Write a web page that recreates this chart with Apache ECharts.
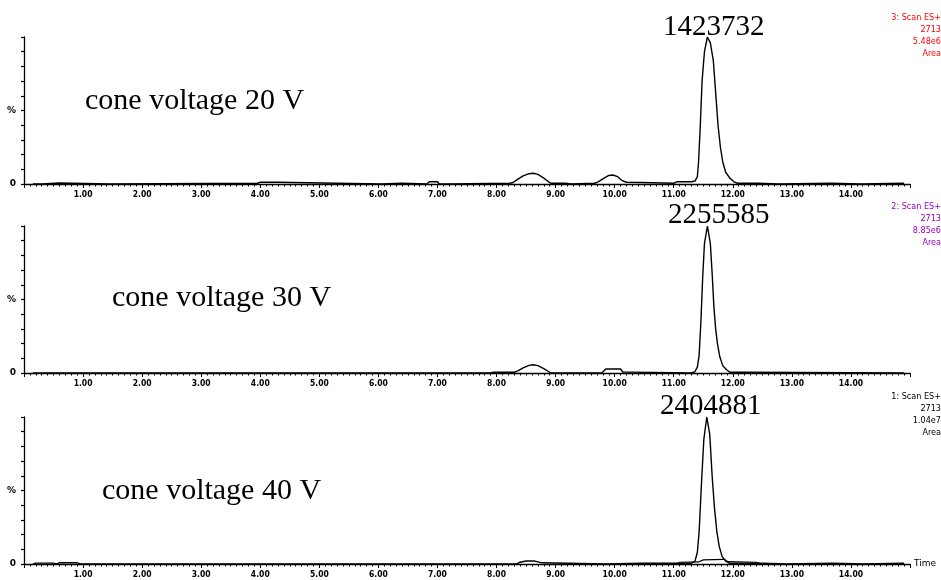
<!DOCTYPE html>
<html>
<head>
<meta charset="utf-8">
<script src="https://cdn.jsdelivr.net/npm/echarts@6/dist/echarts.min.js"></script>
<style>
  html, body { margin: 0; padding: 0; background: #fff; }
  #chart { width: 941px; height: 580px; }
</style>
</head>
<body>
<div id="chart"></div>
<script>
// Chromatogram traces: [retention time (min), relative intensity (%)]
const trace20 = [
  [0.15,0],[0.3,0],[0.32,0.7],[0.6,0.7],[0.62,0],
  [1.45,0],[1.47,0.5],[3.95,0.5],[4.0,1.2],[4.3,1.2],[4.33,0],
  [6.05,0],[6.07,0.6],[6.4,0.6],[6.42,0],
  [6.82,0],[6.86,1.5],[7.0,1.5],[7.03,0],
  [7.2,0],[7.22,0.5],[8.22,0.5],
  [8.28,1],[8.35,3],[8.45,5.5],[8.55,7],[8.62,7.3],[8.7,6.5],[8.8,4],[8.88,1.5],[8.92,0.5],
  [9.17,0.5],[9.2,0],[9.27,0],[9.3,0.5],[9.66,0.5],
  [9.72,1.5],[9.8,3.5],[9.9,5.8],[9.97,6.1],[10.05,5],[10.12,2.5],[10.2,1.2],[10.45,1],[10.48,0.5],
  [11.0,0.5],[11.05,1.5],[11.3,1.5],
  [11.36,2],[11.4,5],[11.42,15],[11.45,40],[11.48,70],[11.52,90],[11.57,100],[11.62,96],
  [11.67,84],[11.71,62],[11.75,40],[11.79,25],[11.83,15],[11.88,8],[11.95,4],[12.02,1.5],
  [12.08,0.5],[12.43,0.5],[12.45,0],
  [12.77,0],[12.79,0.5],[13.67,0.5],[13.69,0],[14.17,0],[14.19,0.5],[14.9,0.5]
];

const trace30 = [
  [0.15,0],[7.9,0],[7.95,0.5],[8.3,0.5],
  [8.36,1.5],[8.45,3.5],[8.55,5.2],[8.62,5.6],[8.7,5],[8.8,3],[8.88,1],[8.92,0],
  [9.78,0],[9.8,0.6],[9.85,2.7],[10.1,2.7],[10.14,0.6],[10.27,0.6],[10.3,0],
  [11.3,0],[11.36,1],[11.4,4],[11.43,12],[11.46,35],[11.49,65],[11.52,88],[11.57,100],
  [11.62,88],[11.65,68],[11.68,45],[11.71,30],[11.74,20],[11.78,11],[11.83,5],[11.9,2],
  [11.95,0.5],[12.21,0.5],[12.24,0],[14.9,0]
];

const trace40 = [
  [0.15,0],[0.2,0.6],[0.5,0.6],[0.55,0],[0.6,0.8],[0.9,0.8],[0.95,0],
  [8.34,0],[8.4,1.2],[8.5,2],[8.65,2],[8.77,0.8],[8.8,0],
  [9.86,0],[9.88,0.6],[10.46,0.6],[10.48,0],
  [11.3,0.5],[11.36,2],[11.4,8],[11.43,22],[11.47,55],[11.51,85],[11.56,100],[11.61,88],
  [11.65,60],[11.69,38],[11.73,22],[11.77,12],[11.82,5],[11.88,2],[11.95,0.5],
  [12.5,0.5],[12.52,0],[12.9,0],[12.92,0.5],[13.7,0.5],[13.72,0],
  [14.2,0],[14.22,0.5],[14.9,0.5]
];

// Second, low trace in the 40 V panel
const trace40b = [
  [11.05,0],[11.1,1.2],[11.42,1.4],[11.5,2.8],[11.85,3.2],[11.92,1.6],[12.4,1.2],[12.48,0]
];

const traces = [trace20, trace30, trace40];
const panelTitles = ['cone voltage 20 V', 'cone voltage 30 V', 'cone voltage 40 V'];
const peakAreas = ['1423732', '2255585', '2404881'];
const scanInfo = [
  ['3: Scan ES+', '2713', '5.48e6', 'Area'],
  ['2: Scan ES+', '2713', '8.85e6', 'Area'],
  ['1: Scan ES+', '2713', '1.04e7', 'Area']
];
const scanColors = ['#ff0000', '#9900bb', '#000000'];
const timeTickLabels = ['', '1.00', '2.00', '3.00', '4.00', '5.00', '6.00', '7.00',
  '8.00', '9.00', '10.00', '11.00', '12.00', '13.00', '14.00', ''];

// Panel geometry
const panelTops = [37, 226, 417];
const panelHeight = 147;
const plotLeft = 24, plotRight = 31;

const grids = [], xAxes = [], yAxes = [], series = [], graphics = [];

panelTops.forEach((top, i) => {
  grids.push({ left: plotLeft, right: plotRight, top: top, height: panelHeight });
  xAxes.push({
    type: 'value', gridIndex: i, min: 0, max: 15, interval: 1,
    name: i === 2 ? 'Time' : '',
    nameLocation: 'end', nameGap: 4,
    nameTextStyle: { fontFamily: 'DejaVu Sans', fontSize: 9, color: '#000', verticalAlign: 'middle' },
    axisLine: { lineStyle: { color: '#000', width: 1.3 } },
    axisTick: { show: true, inside: false, length: 4, lineStyle: { color: '#000', width: 1 } },
    minorTick: { show: true, splitNumber: 10, length: 2.5, lineStyle: { color: '#000', width: 1 } },
    axisLabel: {
      margin: 6, fontFamily: 'DejaVu Sans Condensed', fontWeight: 'bold', fontSize: 8.5, color: '#000',
      formatter: v => timeTickLabels[Math.round(v)] || ''
    },
    splitLine: { show: false }
  });
  yAxes.push({
    type: 'value', gridIndex: i, min: 0, max: 100, interval: 10,
    axisLine: { show: true, lineStyle: { color: '#000', width: 1.3 } },
    axisTick: { show: true, inside: false, length: 3, lineStyle: { color: '#000', width: 1.2 } },
    axisLabel: {
      margin: 8, fontFamily: 'DejaVu Sans', fontWeight: 'bold', fontSize: 9, color: '#000',
      formatter: v => (v === 0 ? '0' : (v === 50 ? '%' : ''))
    },
    splitLine: { show: false }
  });
  series.push({
    type: 'line', xAxisIndex: i, yAxisIndex: i, data: traces[i],
    showSymbol: false, symbol: 'none', smooth: false, animation: false,
    lineStyle: { color: '#000', width: 1.4 }
  });

  // Panel title and peak area
  graphics.push({
    type: 'text', left: [85, 112, 102][i], top: [100, 297, 490][i] - 14,
    style: { text: panelTitles[i], font: '30px "Liberation Serif"', fill: '#000' }
  });
  graphics.push({
    type: 'text', left: [663, 668, 660][i], top: [28, 216, 407][i] - 15,
    style: { text: peakAreas[i], font: '29px "Liberation Serif"', fill: '#000' }
  });
  // Scan information block at the top right of each panel
  const infoTop = [19, 208, 398][i];
  scanInfo[i].forEach((line, k) => {
    graphics.push({
      type: 'text', right: 0, top: infoTop + k * 12 - 6,
      style: { text: line, font: '9px "DejaVu Sans Condensed"', fill: scanColors[i], align: 'right' }
    });
  });
});

series.push({
  type: 'line', xAxisIndex: 2, yAxisIndex: 2, data: trace40b,
  showSymbol: false, symbol: 'none', smooth: false, animation: false,
  lineStyle: { color: '#000', width: 1.2 }
});

const chart = echarts.init(document.getElementById('chart'), null, { renderer: 'canvas' });
chart.setOption({
  backgroundColor: '#fff',
  animation: false,
  grid: grids,
  xAxis: xAxes,
  yAxis: yAxes,
  series: series,
  graphic: graphics
});
</script>
</body>
</html>
